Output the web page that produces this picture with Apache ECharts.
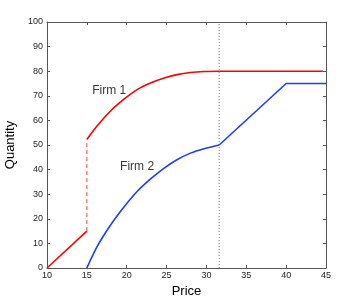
<!DOCTYPE html>
<html><head><meta charset="utf-8">
<script src="https://cdn.jsdelivr.net/npm/echarts@6/dist/echarts.min.js"></script>
<style>html,body{margin:0;padding:0;background:#fff}#c{width:360px;height:302px}</style>
</head><body><div id="c"></div>
<script>
const xTicks = [10, 15, 20, 25, 30, 35, 40, 45];
const yTicks = [0, 10, 20, 30, 40, 50, 60, 70, 80, 90, 100];
const firm1Low = [[10, 0], [15, 15]];
const firm1Jump = [[15, 15], [15, 52]];
const firm1Curve = [[15, 52.2], [16.3, 57.8], [18, 63.9], [19.7, 68.7], [21.3, 72.5], [23, 75.2], [24.7, 77.2], [26.3, 78.6], [28, 79.5], [29.7, 79.9], [31.6, 80]];
const firm1Flat = [[31.6, 80], [44.6, 80]];
const firm2Curve = [[15, 0], [16.3, 8.8], [18, 17.6], [19.7, 25], [21.3, 31.1], [23, 36.2], [24.7, 40.6], [26.3, 44], [28, 46.7], [29.7, 48.5], [31.6, 50]];
const firm2Linear = [[31.6, 50], [40, 75], [45, 75]];
const dividerX = [[31.6, 0], [31.6, 100]];
const labels = [{name: 'Firm 1', x: 17.8, y: 72}, {name: 'Firm 2', x: 21.3, y: 41}];

const chart = echarts.init(document.getElementById('c'), null, {renderer: 'canvas'});
const font = 'Liberation Sans, Arial, sans-serif';
const axisCol = '#555';
const baseX = {type: 'value', min: 10, max: 45, interval: 5,
  axisLine: {show: true, onZero: false, lineStyle: {color: axisCol, width: 1}},
  axisTick: {show: true, inside: true, length: 3, lineStyle: {color: axisCol}},
  splitLine: {show: false}};
const baseY = {type: 'value', min: 0, max: 100, interval: 10,
  axisLine: {show: true, onZero: false, lineStyle: {color: axisCol, width: 1}},
  axisTick: {show: true, inside: true, length: 3, lineStyle: {color: axisCol}},
  splitLine: {show: false}};
chart.setOption({
  animation: false,
  grid: {left: 47, right: 34, top: 22, bottom: 34, containLabel: false, outerBoundsMode: 'none'},
  xAxis: [
    Object.assign({}, baseX, {position: 'bottom', name: 'Price', nameLocation: 'middle', nameGap: 13,
      nameTextStyle: {fontFamily: font, fontSize: 13, color: '#000'},
      axisLabel: {fontFamily: font, fontSize: 9, color: '#222', margin: 3, formatter: v => xTicks.includes(v) ? String(v) : ''}}),
    Object.assign({}, baseX, {position: 'top', axisLabel: {show: false}})
  ],
  yAxis: [
    Object.assign({}, baseY, {position: 'left', name: 'Quantity', nameLocation: 'middle', nameGap: 21,
      nameTextStyle: {fontFamily: font, fontSize: 13, color: '#000'},
      axisLabel: {fontFamily: font, fontSize: 9, color: '#222', margin: 4, formatter: v => yTicks.includes(v) ? String(v) : ''}}),
    Object.assign({}, baseY, {position: 'right', axisLabel: {show: false}})
  ],
  series: [
    {type: 'line', data: dividerX, symbol: 'none', silent: true, lineStyle: {color: '#777', width: 1, type: [1, 2]}},
    {type: 'line', data: firm1Low, symbol: 'none', lineStyle: {color: '#ff0000', width: 1.6}},
    {type: 'line', data: firm1Jump, symbol: 'none', lineStyle: {color: '#ff4444', width: 1, type: [4, 3]}},
    {type: 'line', data: firm1Curve, symbol: 'none', smooth: 0.3, lineStyle: {color: '#ff0000', width: 1.6}},
    {type: 'line', data: firm1Flat, symbol: 'none', lineStyle: {color: '#ff0000', width: 1.6}},
    {type: 'line', data: firm2Curve, symbol: 'none', smooth: 0.3, lineStyle: {color: '#1f3dff', width: 1.6}},
    {type: 'line', data: firm2Linear, symbol: 'none', lineStyle: {color: '#1f3dff', width: 1.6}},
    {type: 'scatter', data: labels.map(l => ({value: [l.x, l.y], name: l.name})), symbolSize: 0,
      label: {show: true, position: 'inside', formatter: p => p.name, fontFamily: font, fontSize: 12, color: '#000'}}
  ]
});
</script></body></html>
